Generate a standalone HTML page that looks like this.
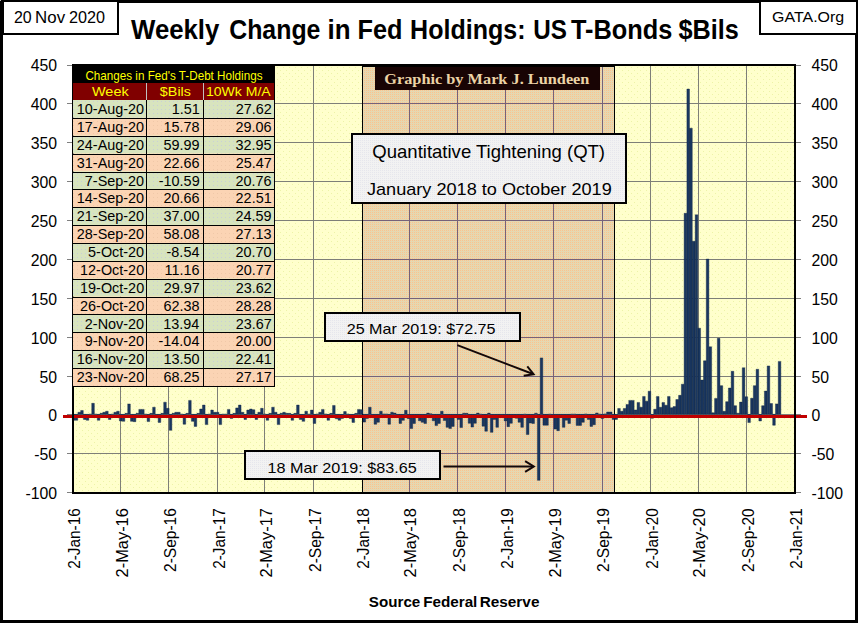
<!DOCTYPE html><html><head><meta charset="utf-8"><style>html,body{margin:0;padding:0;background:#fff;}svg{display:block;}text{font-family:"Liberation Sans",sans-serif;}</style></head><body>
<svg width="858" height="623" viewBox="0 0 858 623">
<defs>
<pattern id="ydots" width="6" height="6" patternUnits="userSpaceOnUse"><rect width="6" height="6" fill="#FFFFCC"/><rect x="1" y="1" width="1" height="1" fill="#EDF3A8"/><rect x="4" y="4" width="1" height="1" fill="#EDF3A8"/></pattern>
<pattern id="tan" width="2" height="2" patternUnits="userSpaceOnUse"><rect width="2" height="2" fill="#ECD7AB"/><rect x="0" y="0" width="1" height="1" fill="#F4C494"/><rect x="1" y="1" width="1" height="1" fill="#DDD8B8"/></pattern>
<pattern id="grn" width="4" height="4" patternUnits="userSpaceOnUse"><rect width="4" height="4" fill="#D8E4BE"/><rect x="1" y="1" width="1" height="1" fill="#C8D0D8"/></pattern>
<pattern id="pch" width="4" height="4" patternUnits="userSpaceOnUse"><rect width="4" height="4" fill="#FBD4B4"/><rect x="1" y="1" width="1" height="1" fill="#F0C8A8"/></pattern>
<pattern id="qt" width="2" height="2" patternUnits="userSpaceOnUse"><rect width="2" height="2" fill="#F2F2F2"/><rect x="0" y="0" width="1" height="1" fill="#E6E6EC"/></pattern>
</defs>
<rect width="858" height="623" fill="#fff"/>
<rect x="74" y="66" width="720" height="426" fill="url(#ydots)"/>
<rect x="362" y="66" width="253" height="427" fill="url(#tan)"/>
<rect x="74" y="103" width="288" height="1" fill="#7E7F78"/>
<rect x="363" y="103" width="251" height="1" fill="#76627A"/>
<rect x="615" y="103" width="179" height="1" fill="#7E7F78"/>
<rect x="74" y="142" width="288" height="1" fill="#7E7F78"/>
<rect x="363" y="142" width="251" height="1" fill="#76627A"/>
<rect x="615" y="142" width="179" height="1" fill="#7E7F78"/>
<rect x="74" y="181" width="288" height="1" fill="#7E7F78"/>
<rect x="363" y="181" width="251" height="1" fill="#76627A"/>
<rect x="615" y="181" width="179" height="1" fill="#7E7F78"/>
<rect x="74" y="220" width="288" height="1" fill="#7E7F78"/>
<rect x="363" y="220" width="251" height="1" fill="#76627A"/>
<rect x="615" y="220" width="179" height="1" fill="#7E7F78"/>
<rect x="74" y="259" width="288" height="1" fill="#7E7F78"/>
<rect x="363" y="259" width="251" height="1" fill="#76627A"/>
<rect x="615" y="259" width="179" height="1" fill="#7E7F78"/>
<rect x="74" y="298" width="288" height="1" fill="#7E7F78"/>
<rect x="363" y="298" width="251" height="1" fill="#76627A"/>
<rect x="615" y="298" width="179" height="1" fill="#7E7F78"/>
<rect x="74" y="337" width="288" height="1" fill="#7E7F78"/>
<rect x="363" y="337" width="251" height="1" fill="#76627A"/>
<rect x="615" y="337" width="179" height="1" fill="#7E7F78"/>
<rect x="74" y="376" width="288" height="1" fill="#7E7F78"/>
<rect x="363" y="376" width="251" height="1" fill="#76627A"/>
<rect x="615" y="376" width="179" height="1" fill="#7E7F78"/>
<rect x="74" y="414" width="288" height="1" fill="#7E7F78"/>
<rect x="363" y="414" width="251" height="1" fill="#76627A"/>
<rect x="615" y="414" width="179" height="1" fill="#7E7F78"/>
<rect x="74" y="453" width="288" height="1" fill="#7E7F78"/>
<rect x="363" y="453" width="251" height="1" fill="#76627A"/>
<rect x="615" y="453" width="179" height="1" fill="#7E7F78"/>
<rect x="120" y="66" width="1" height="426" fill="#7E7F78"/>
<rect x="168" y="66" width="1" height="426" fill="#7E7F78"/>
<rect x="217" y="66" width="1" height="426" fill="#7E7F78"/>
<rect x="264" y="66" width="1" height="426" fill="#7E7F78"/>
<rect x="313" y="66" width="1" height="426" fill="#7E7F78"/>
<rect x="409" y="66" width="1" height="426" fill="#76627A"/>
<rect x="457" y="66" width="1" height="426" fill="#76627A"/>
<rect x="505" y="66" width="1" height="426" fill="#76627A"/>
<rect x="553" y="66" width="1" height="426" fill="#76627A"/>
<rect x="602" y="66" width="1" height="426" fill="#76627A"/>
<rect x="650" y="66" width="1" height="426" fill="#7E7F78"/>
<rect x="698" y="66" width="1" height="426" fill="#7E7F78"/>
<rect x="746" y="66" width="1" height="426" fill="#7E7F78"/>
<rect x="362" y="66" width="1" height="427" fill="#000"/><rect x="614" y="66" width="1" height="427" fill="#000"/><rect x="362" y="66" width="253" height="1" fill="#000"/>
<path d="M72.36 414.36h2.6v5.90h-2.6zM75.13 414.36h2.6v5.90h-2.6zM77.90 412.27h2.6v2.10h-2.6zM80.66 410.48h2.6v3.88h-2.6zM83.43 414.36h2.6v5.12h-2.6zM86.20 414.36h2.6v5.90h-2.6zM88.97 414.13h2.6v0.23h-2.6zM91.74 403.34h2.6v11.02h-2.6zM94.51 414.13h2.6v0.23h-2.6zM97.27 414.36h2.6v5.90h-2.6zM100.04 413.35h2.6v1.01h-2.6zM102.81 412.27h2.6v2.10h-2.6zM105.58 411.26h2.6v3.11h-2.6zM108.35 414.36h2.6v5.12h-2.6zM111.11 414.13h2.6v0.23h-2.6zM113.88 412.27h2.6v2.10h-2.6zM116.65 411.26h2.6v3.11h-2.6zM119.42 414.36h2.6v6.60h-2.6zM122.19 414.36h2.6v6.99h-2.6zM124.96 413.35h2.6v1.01h-2.6zM127.72 403.96h2.6v10.40h-2.6zM130.49 414.36h2.6v6.99h-2.6zM133.26 414.36h2.6v7.30h-2.6zM136.03 413.35h2.6v1.01h-2.6zM138.80 409.39h2.6v4.97h-2.6zM141.56 409.39h2.6v4.97h-2.6zM144.33 414.13h2.6v0.23h-2.6zM147.10 414.36h2.6v7.22h-2.6zM149.87 413.35h2.6v1.01h-2.6zM152.64 407.22h2.6v7.14h-2.6zM155.41 414.36h2.6v3.49h-2.6zM158.17 414.36h2.6v8.07h-2.6zM160.94 413.35h2.6v1.01h-2.6zM163.71 402.17h2.6v12.19h-2.6zM166.48 408.31h2.6v6.06h-2.6zM169.25 414.36h2.6v15.99h-2.6zM172.02 413.35h2.6v1.01h-2.6zM174.78 412.27h2.6v2.10h-2.6zM177.55 412.27h2.6v2.10h-2.6zM180.32 414.13h2.6v0.23h-2.6zM183.09 414.36h2.6v9.86h-2.6zM185.86 413.35h2.6v1.01h-2.6zM188.62 400.39h2.6v13.97h-2.6zM191.39 414.36h2.6v6.99h-2.6zM194.16 414.36h2.6v12.03h-2.6zM196.93 413.35h2.6v1.01h-2.6zM199.70 409.01h2.6v5.36h-2.6zM202.47 405.05h2.6v9.32h-2.6zM205.23 414.36h2.6v10.25h-2.6zM208.00 414.13h2.6v0.23h-2.6zM210.77 410.09h2.6v4.27h-2.6zM213.54 412.27h2.6v2.10h-2.6zM216.31 412.27h2.6v2.10h-2.6zM219.07 414.36h2.6v10.25h-2.6zM221.84 414.13h2.6v0.23h-2.6zM224.61 414.13h2.6v0.23h-2.6zM227.38 409.39h2.6v4.97h-2.6zM230.15 414.36h2.6v4.04h-2.6zM232.92 413.35h2.6v1.01h-2.6zM235.68 407.92h2.6v6.44h-2.6zM238.45 405.05h2.6v9.32h-2.6zM241.22 412.27h2.6v2.10h-2.6zM243.99 414.36h2.6v5.12h-2.6zM246.76 410.09h2.6v4.27h-2.6zM249.52 409.01h2.6v5.36h-2.6zM252.29 409.78h2.6v4.58h-2.6zM255.06 414.36h2.6v5.12h-2.6zM257.83 412.27h2.6v2.10h-2.6zM260.60 408.31h2.6v6.06h-2.6zM263.37 414.13h2.6v0.23h-2.6zM266.13 414.36h2.6v5.90h-2.6zM268.90 413.35h2.6v1.01h-2.6zM271.67 407.22h2.6v7.14h-2.6zM274.44 412.27h2.6v2.10h-2.6zM277.21 414.36h2.6v10.25h-2.6zM279.97 413.35h2.6v1.01h-2.6zM282.74 412.27h2.6v2.10h-2.6zM285.51 413.35h2.6v1.01h-2.6zM288.28 413.35h2.6v1.01h-2.6zM291.05 414.36h2.6v5.90h-2.6zM293.82 413.35h2.6v1.01h-2.6zM296.58 405.05h2.6v9.32h-2.6zM299.35 414.36h2.6v5.12h-2.6zM302.12 414.36h2.6v6.99h-2.6zM304.89 411.18h2.6v3.18h-2.6zM307.66 414.13h2.6v0.23h-2.6zM310.43 410.09h2.6v4.27h-2.6zM313.19 414.36h2.6v9.08h-2.6zM315.96 413.98h2.6v0.39h-2.6zM318.73 412.27h2.6v2.10h-2.6zM321.50 409.39h2.6v4.97h-2.6zM324.27 413.98h2.6v0.39h-2.6zM327.03 414.36h2.6v5.90h-2.6zM329.80 413.35h2.6v1.01h-2.6zM332.57 405.44h2.6v8.93h-2.6zM335.34 414.36h2.6v4.43h-2.6zM338.11 414.36h2.6v5.90h-2.6zM340.88 414.36h2.6v4.04h-2.6zM343.64 411.57h2.6v2.79h-2.6zM346.41 413.98h2.6v0.39h-2.6zM349.18 414.36h2.6v4.04h-2.6zM351.95 414.36h2.6v8.07h-2.6zM354.72 413.35h2.6v1.01h-2.6zM357.48 409.39h2.6v4.97h-2.6zM360.25 409.71h2.6v4.66h-2.6zM363.02 414.36h2.6v7.76h-2.6zM365.79 414.36h2.6v4.04h-2.6zM368.56 407.22h2.6v7.14h-2.6zM371.33 414.36h2.6v3.11h-2.6zM374.09 414.36h2.6v9.86h-2.6zM376.86 414.36h2.6v7.92h-2.6zM379.63 411.26h2.6v3.11h-2.6zM382.40 413.98h2.6v0.39h-2.6zM385.17 413.98h2.6v0.39h-2.6zM387.93 414.36h2.6v9.86h-2.6zM390.70 412.19h2.6v2.17h-2.6zM393.47 413.12h2.6v1.24h-2.6zM396.24 414.36h2.6v3.11h-2.6zM399.01 414.36h2.6v9.08h-2.6zM401.78 414.36h2.6v5.98h-2.6zM404.54 410.25h2.6v4.11h-2.6zM407.31 414.36h2.6v4.27h-2.6zM410.08 414.36h2.6v14.21h-2.6zM412.85 414.36h2.6v9.16h-2.6zM415.62 414.36h2.6v0.78h-2.6zM418.39 414.36h2.6v6.44h-2.6zM421.15 414.36h2.6v7.92h-2.6zM423.92 414.36h2.6v9.16h-2.6zM426.69 413.12h2.6v1.24h-2.6zM429.46 413.82h2.6v0.54h-2.6zM432.23 414.36h2.6v6.44h-2.6zM434.99 414.36h2.6v11.26h-2.6zM437.76 414.36h2.6v9.08h-2.6zM440.53 411.26h2.6v3.11h-2.6zM443.30 414.36h2.6v6.21h-2.6zM446.07 414.36h2.6v12.97h-2.6zM448.84 414.36h2.6v14.21h-2.6zM451.60 414.36h2.6v12.03h-2.6zM454.37 414.36h2.6v0.78h-2.6zM457.14 414.36h2.6v5.05h-2.6zM459.91 414.36h2.6v13.20h-2.6zM462.68 413.20h2.6v1.16h-2.6zM465.44 413.35h2.6v1.01h-2.6zM468.21 414.36h2.6v8.93h-2.6zM470.98 414.36h2.6v12.73h-2.6zM473.75 414.36h2.6v8.93h-2.6zM476.52 413.12h2.6v1.24h-2.6zM479.29 414.13h2.6v0.23h-2.6zM482.05 414.36h2.6v11.80h-2.6zM484.82 414.36h2.6v16.85h-2.6zM487.59 413.12h2.6v1.24h-2.6zM490.36 414.36h2.6v18.01h-2.6zM493.13 414.36h2.6v5.05h-2.6zM495.89 414.36h2.6v12.97h-2.6zM498.66 414.36h2.6v0.39h-2.6zM501.43 414.36h2.6v0.39h-2.6zM504.20 414.36h2.6v6.52h-2.6zM506.97 414.36h2.6v12.27h-2.6zM509.74 414.36h2.6v8.93h-2.6zM512.50 414.36h2.6v1.55h-2.6zM515.27 414.36h2.6v3.88h-2.6zM518.04 414.36h2.6v7.92h-2.6zM520.81 414.36h2.6v12.97h-2.6zM523.58 414.13h2.6v0.23h-2.6zM526.34 414.36h2.6v20.19h-2.6zM529.11 414.36h2.6v8.70h-2.6zM531.88 414.36h2.6v9.16h-2.6zM534.65 413.20h2.6v1.16h-2.6zM537.42 414.36h2.6v65.99h-2.6zM540.19 357.88h2.6v56.48h-2.6zM542.95 414.36h2.6v10.87h-2.6zM545.72 414.36h2.6v10.87h-2.6zM548.49 414.13h2.6v0.23h-2.6zM551.26 414.36h2.6v3.11h-2.6zM554.03 414.36h2.6v14.75h-2.6zM556.80 414.36h2.6v16.30h-2.6zM559.56 414.36h2.6v0.39h-2.6zM562.33 414.36h2.6v12.97h-2.6zM565.10 414.36h2.6v5.82h-2.6zM567.87 414.36h2.6v9.08h-2.6zM570.64 414.13h2.6v0.23h-2.6zM573.40 414.13h2.6v0.23h-2.6zM576.17 414.36h2.6v11.02h-2.6zM578.94 414.36h2.6v11.02h-2.6zM581.71 414.36h2.6v7.92h-2.6zM584.48 413.98h2.6v0.39h-2.6zM587.25 414.36h2.6v5.05h-2.6zM590.01 414.36h2.6v12.03h-2.6zM592.78 414.36h2.6v10.33h-2.6zM595.55 412.97h2.6v1.40h-2.6zM598.32 414.13h2.6v0.23h-2.6zM601.09 414.36h2.6v4.11h-2.6zM603.85 413.90h2.6v0.47h-2.6zM606.62 412.03h2.6v2.33h-2.6zM609.39 412.03h2.6v2.33h-2.6zM612.16 414.36h2.6v5.05h-2.6zM614.93 414.36h2.6v5.05h-2.6zM617.70 408.46h2.6v5.90h-2.6zM620.46 411.26h2.6v3.11h-2.6zM623.23 408.46h2.6v5.90h-2.6zM626.00 404.43h2.6v9.94h-2.6zM628.77 400.39h2.6v13.97h-2.6zM631.54 400.39h2.6v13.97h-2.6zM634.30 409.94h2.6v4.43h-2.6zM637.07 402.41h2.6v11.96h-2.6zM639.84 407.22h2.6v7.14h-2.6zM642.61 396.43h2.6v17.93h-2.6zM645.38 401.17h2.6v13.20h-2.6zM648.15 391.23h2.6v23.14h-2.6zM650.91 414.36h2.6v3.88h-2.6zM653.68 409.24h2.6v5.12h-2.6zM656.45 396.43h2.6v17.93h-2.6zM659.22 407.22h2.6v7.14h-2.6zM661.99 402.41h2.6v11.96h-2.6zM664.75 405.20h2.6v9.16h-2.6zM667.52 396.43h2.6v17.93h-2.6zM670.29 407.69h2.6v6.68h-2.6zM673.06 406.60h2.6v7.76h-2.6zM675.83 399.54h2.6v14.83h-2.6zM678.60 395.34h2.6v19.02h-2.6zM681.36 384.16h2.6v30.20h-2.6zM684.13 213.29h2.6v201.08h-2.6zM686.90 89.07h2.6v325.30h-2.6zM689.67 128.20h2.6v286.17h-2.6zM692.44 241.23h2.6v173.13h-2.6zM695.21 214.84h2.6v199.53h-2.6zM697.97 328.19h2.6v86.18h-2.6zM700.74 380.05h2.6v34.32h-2.6zM703.51 360.79h2.6v53.57h-2.6zM706.28 259.09h2.6v155.27h-2.6zM709.05 346.82h2.6v67.54h-2.6zM711.81 412.81h2.6v1.55h-2.6zM714.58 398.45h2.6v15.92h-2.6zM717.35 338.36h2.6v76.01h-2.6zM720.12 385.64h2.6v28.73h-2.6zM722.89 411.26h2.6v3.11h-2.6zM725.66 401.63h2.6v12.73h-2.6zM728.42 388.04h2.6v26.32h-2.6zM731.19 371.28h2.6v43.09h-2.6zM733.96 405.67h2.6v8.70h-2.6zM736.73 413.19h2.6v1.17h-2.6zM739.50 402.11h2.6v12.25h-2.6zM742.26 367.79h2.6v46.57h-2.6zM745.03 396.77h2.6v17.59h-2.6zM747.80 414.36h2.6v8.22h-2.6zM750.57 398.32h2.6v16.04h-2.6zM753.34 385.64h2.6v28.73h-2.6zM756.11 369.27h2.6v45.09h-2.6zM758.87 414.36h2.6v6.63h-2.6zM761.64 405.70h2.6v8.66h-2.6zM764.41 391.10h2.6v23.27h-2.6zM767.18 365.93h2.6v48.43h-2.6zM769.95 403.54h2.6v10.82h-2.6zM772.71 414.36h2.6v10.90h-2.6zM775.48 403.88h2.6v10.48h-2.6zM778.25 361.38h2.6v52.99h-2.6z" fill="#1A3760" stroke="#0F2342" stroke-width="0.4"/>
<rect x="63" y="415" width="744" height="3" fill="#C00000"/>
<rect x="72" y="64" width="724" height="2" fill="#000"/><rect x="72" y="492" width="724" height="2" fill="#000"/><rect x="72" y="64" width="2" height="430" fill="#000"/><rect x="794" y="64" width="2" height="430" fill="#000"/>
<rect x="67" y="65" width="5" height="1" fill="#808080"/><rect x="796" y="65" width="5" height="1" fill="#808080"/>
<text x="57" y="70.9" font-size="15.8" text-anchor="end" fill="#000">450</text>
<text x="811.5" y="70.9" font-size="15.8" fill="#000">450</text>
<rect x="67" y="103" width="5" height="1" fill="#808080"/><rect x="796" y="103" width="5" height="1" fill="#808080"/>
<text x="57" y="109.7" font-size="15.8" text-anchor="end" fill="#000">400</text>
<text x="811.5" y="109.7" font-size="15.8" fill="#000">400</text>
<rect x="67" y="142" width="5" height="1" fill="#808080"/><rect x="796" y="142" width="5" height="1" fill="#808080"/>
<text x="57" y="148.7" font-size="15.8" text-anchor="end" fill="#000">350</text>
<text x="811.5" y="148.7" font-size="15.8" fill="#000">350</text>
<rect x="67" y="181" width="5" height="1" fill="#808080"/><rect x="796" y="181" width="5" height="1" fill="#808080"/>
<text x="57" y="187.7" font-size="15.8" text-anchor="end" fill="#000">300</text>
<text x="811.5" y="187.7" font-size="15.8" fill="#000">300</text>
<rect x="67" y="220" width="5" height="1" fill="#808080"/><rect x="796" y="220" width="5" height="1" fill="#808080"/>
<text x="57" y="226.7" font-size="15.8" text-anchor="end" fill="#000">250</text>
<text x="811.5" y="226.7" font-size="15.8" fill="#000">250</text>
<rect x="67" y="259" width="5" height="1" fill="#808080"/><rect x="796" y="259" width="5" height="1" fill="#808080"/>
<text x="57" y="265.7" font-size="15.8" text-anchor="end" fill="#000">200</text>
<text x="811.5" y="265.7" font-size="15.8" fill="#000">200</text>
<rect x="67" y="298" width="5" height="1" fill="#808080"/><rect x="796" y="298" width="5" height="1" fill="#808080"/>
<text x="57" y="304.7" font-size="15.8" text-anchor="end" fill="#000">150</text>
<text x="811.5" y="304.7" font-size="15.8" fill="#000">150</text>
<rect x="67" y="337" width="5" height="1" fill="#808080"/><rect x="796" y="337" width="5" height="1" fill="#808080"/>
<text x="57" y="343.7" font-size="15.8" text-anchor="end" fill="#000">100</text>
<text x="811.5" y="343.7" font-size="15.8" fill="#000">100</text>
<rect x="67" y="376" width="5" height="1" fill="#808080"/><rect x="796" y="376" width="5" height="1" fill="#808080"/>
<text x="57" y="382.7" font-size="15.8" text-anchor="end" fill="#000">50</text>
<text x="811.5" y="382.7" font-size="15.8" fill="#000">50</text>
<rect x="67" y="414" width="5" height="1" fill="#808080"/><rect x="796" y="414" width="5" height="1" fill="#808080"/>
<text x="57" y="420.7" font-size="15.8" text-anchor="end" fill="#000">0</text>
<text x="811.5" y="420.7" font-size="15.8" fill="#000">0</text>
<rect x="67" y="453" width="5" height="1" fill="#808080"/><rect x="796" y="453" width="5" height="1" fill="#808080"/>
<text x="57" y="459.7" font-size="15.8" text-anchor="end" fill="#000">-50</text>
<text x="811.5" y="459.7" font-size="15.8" fill="#000">-50</text>
<rect x="67" y="492" width="5" height="1" fill="#808080"/><rect x="796" y="492" width="5" height="1" fill="#808080"/>
<text x="57" y="498.7" font-size="15.8" text-anchor="end" fill="#000">-100</text>
<text x="811.5" y="498.7" font-size="15.8" fill="#000">-100</text>
<text x="-568.87" y="0.00" font-size="15.60" style="font-family:'Liberation Sans',sans-serif" fill="#000" textLength="60.65" lengthAdjust="spacingAndGlyphs" transform="translate(79.8,0) rotate(-90)">2-Jan-16</text>
<text x="-577.42" y="0.00" font-size="15.60" style="font-family:'Liberation Sans',sans-serif" fill="#000" textLength="69.24" lengthAdjust="spacingAndGlyphs" transform="translate(127.7,0) rotate(-90)">2-May-16</text>
<text x="-571.97" y="0.00" font-size="15.60" style="font-family:'Liberation Sans',sans-serif" fill="#000" textLength="63.75" lengthAdjust="spacingAndGlyphs" transform="translate(176.3,0) rotate(-90)">2-Sep-16</text>
<text x="-568.87" y="0.00" font-size="15.60" style="font-family:'Liberation Sans',sans-serif" fill="#000" textLength="60.77" lengthAdjust="spacingAndGlyphs" transform="translate(224.5,0) rotate(-90)">2-Jan-17</text>
<text x="-577.42" y="0.00" font-size="15.60" style="font-family:'Liberation Sans',sans-serif" fill="#000" textLength="69.36" lengthAdjust="spacingAndGlyphs" transform="translate(272.0,0) rotate(-90)">2-May-17</text>
<text x="-571.98" y="0.00" font-size="15.60" style="font-family:'Liberation Sans',sans-serif" fill="#000" textLength="63.87" lengthAdjust="spacingAndGlyphs" transform="translate(320.6,0) rotate(-90)">2-Sep-17</text>
<text x="-568.87" y="0.00" font-size="15.60" style="font-family:'Liberation Sans',sans-serif" fill="#000" textLength="60.65" lengthAdjust="spacingAndGlyphs" transform="translate(368.9,0) rotate(-90)">2-Jan-18</text>
<text x="-577.42" y="0.00" font-size="15.60" style="font-family:'Liberation Sans',sans-serif" fill="#000" textLength="69.24" lengthAdjust="spacingAndGlyphs" transform="translate(416.3,0) rotate(-90)">2-May-18</text>
<text x="-571.97" y="0.00" font-size="15.60" style="font-family:'Liberation Sans',sans-serif" fill="#000" textLength="63.75" lengthAdjust="spacingAndGlyphs" transform="translate(465.0,0) rotate(-90)">2-Sep-18</text>
<text x="-568.87" y="0.00" font-size="15.60" style="font-family:'Liberation Sans',sans-serif" fill="#000" textLength="60.69" lengthAdjust="spacingAndGlyphs" transform="translate(513.2,0) rotate(-90)">2-Jan-19</text>
<text x="-577.42" y="0.00" font-size="15.60" style="font-family:'Liberation Sans',sans-serif" fill="#000" textLength="69.28" lengthAdjust="spacingAndGlyphs" transform="translate(560.7,0) rotate(-90)">2-May-19</text>
<text x="-571.98" y="0.00" font-size="15.60" style="font-family:'Liberation Sans',sans-serif" fill="#000" textLength="63.79" lengthAdjust="spacingAndGlyphs" transform="translate(609.3,0) rotate(-90)">2-Sep-19</text>
<text x="-568.87" y="0.00" font-size="15.60" style="font-family:'Liberation Sans',sans-serif" fill="#000" textLength="60.57" lengthAdjust="spacingAndGlyphs" transform="translate(657.6,0) rotate(-90)">2-Jan-20</text>
<text x="-577.42" y="0.00" font-size="15.60" style="font-family:'Liberation Sans',sans-serif" fill="#000" textLength="69.15" lengthAdjust="spacingAndGlyphs" transform="translate(705.4,0) rotate(-90)">2-May-20</text>
<text x="-571.97" y="0.00" font-size="15.60" style="font-family:'Liberation Sans',sans-serif" fill="#000" textLength="63.68" lengthAdjust="spacingAndGlyphs" transform="translate(754.1,0) rotate(-90)">2-Sep-20</text>
<text x="-568.87" y="0.00" font-size="15.60" style="font-family:'Liberation Sans',sans-serif" fill="#000" textLength="60.73" lengthAdjust="spacingAndGlyphs" transform="translate(802.3,0) rotate(-90)">2-Jan-21</text>
<rect x="72" y="64" width="203" height="19" fill="#000"/>
<text x="85.42" y="80.40" font-size="12.94" style="font-family:'Liberation Sans',sans-serif" fill="#FFFF00" textLength="177.08" lengthAdjust="spacingAndGlyphs">Changes in Fed's T-Debt Holdings</text>
<rect x="72" y="83" width="203" height="17" fill="#800000"/>
<rect x="146" y="83" width="1" height="17" fill="#C0C0C0"/><rect x="203" y="83" width="1" height="17" fill="#C0C0C0"/>
<text x="91.93" y="95.50" font-size="13.52" style="font-family:'Liberation Sans',sans-serif" fill="#FFFF00" textLength="36.78" lengthAdjust="spacingAndGlyphs">Week</text>
<text x="159.86" y="95.50" font-size="13.52" style="font-family:'Liberation Sans',sans-serif" fill="#FFFF00" textLength="31.05" lengthAdjust="spacingAndGlyphs">$Bils</text>
<text x="205.95" y="95.50" font-size="13.52" style="font-family:'Liberation Sans',sans-serif" fill="#FFFF00" textLength="64.78" lengthAdjust="spacingAndGlyphs">10Wk M/A</text>
<rect x="72" y="100.00" width="203" height="17.88" fill="url(#grn)"/>
<text x="76.83" y="114.00" font-size="14.20" style="font-family:'Liberation Sans',sans-serif" fill="#000" textLength="67.31" lengthAdjust="spacingAndGlyphs">10-Aug-20</text>
<text x="171.65" y="114.00" font-size="14.20" style="font-family:'Liberation Sans',sans-serif" fill="#000" textLength="28.05" lengthAdjust="spacingAndGlyphs">1.51</text>
<text x="235.65" y="114.00" font-size="14.20" style="font-family:'Liberation Sans',sans-serif" fill="#000" textLength="36.07" lengthAdjust="spacingAndGlyphs">27.62</text>
<rect x="72" y="117.88" width="203" height="17.88" fill="url(#pch)"/>
<text x="76.83" y="131.88" font-size="14.20" style="font-family:'Liberation Sans',sans-serif" fill="#000" textLength="67.31" lengthAdjust="spacingAndGlyphs">17-Aug-20</text>
<text x="163.54" y="131.88" font-size="14.20" style="font-family:'Liberation Sans',sans-serif" fill="#000" textLength="36.07" lengthAdjust="spacingAndGlyphs">15.78</text>
<text x="235.54" y="131.88" font-size="14.20" style="font-family:'Liberation Sans',sans-serif" fill="#000" textLength="36.07" lengthAdjust="spacingAndGlyphs">29.06</text>
<rect x="72" y="135.75" width="203" height="17.88" fill="url(#grn)"/>
<text x="76.83" y="149.75" font-size="14.20" style="font-family:'Liberation Sans',sans-serif" fill="#000" textLength="67.31" lengthAdjust="spacingAndGlyphs">24-Aug-20</text>
<text x="163.58" y="149.75" font-size="14.20" style="font-family:'Liberation Sans',sans-serif" fill="#000" textLength="36.07" lengthAdjust="spacingAndGlyphs">59.99</text>
<text x="235.51" y="149.75" font-size="14.20" style="font-family:'Liberation Sans',sans-serif" fill="#000" textLength="36.07" lengthAdjust="spacingAndGlyphs">32.95</text>
<rect x="72" y="153.62" width="203" height="17.88" fill="url(#pch)"/>
<text x="76.83" y="167.62" font-size="14.20" style="font-family:'Liberation Sans',sans-serif" fill="#000" textLength="67.31" lengthAdjust="spacingAndGlyphs">31-Aug-20</text>
<text x="163.54" y="167.62" font-size="14.20" style="font-family:'Liberation Sans',sans-serif" fill="#000" textLength="36.07" lengthAdjust="spacingAndGlyphs">22.66</text>
<text x="235.65" y="167.62" font-size="14.20" style="font-family:'Liberation Sans',sans-serif" fill="#000" textLength="36.07" lengthAdjust="spacingAndGlyphs">25.47</text>
<rect x="72" y="171.50" width="203" height="17.88" fill="url(#grn)"/>
<text x="84.87" y="185.50" font-size="14.20" style="font-family:'Liberation Sans',sans-serif" fill="#000" textLength="59.29" lengthAdjust="spacingAndGlyphs">7-Sep-20</text>
<text x="158.79" y="185.50" font-size="14.20" style="font-family:'Liberation Sans',sans-serif" fill="#000" textLength="40.87" lengthAdjust="spacingAndGlyphs">-10.59</text>
<text x="235.54" y="185.50" font-size="14.20" style="font-family:'Liberation Sans',sans-serif" fill="#000" textLength="36.07" lengthAdjust="spacingAndGlyphs">20.76</text>
<rect x="72" y="189.38" width="203" height="17.88" fill="url(#pch)"/>
<text x="76.83" y="203.38" font-size="14.20" style="font-family:'Liberation Sans',sans-serif" fill="#000" textLength="67.31" lengthAdjust="spacingAndGlyphs">14-Sep-20</text>
<text x="163.54" y="203.38" font-size="14.20" style="font-family:'Liberation Sans',sans-serif" fill="#000" textLength="36.07" lengthAdjust="spacingAndGlyphs">20.66</text>
<text x="235.62" y="203.38" font-size="14.20" style="font-family:'Liberation Sans',sans-serif" fill="#000" textLength="36.07" lengthAdjust="spacingAndGlyphs">22.51</text>
<rect x="72" y="207.25" width="203" height="17.88" fill="url(#grn)"/>
<text x="76.83" y="221.25" font-size="14.20" style="font-family:'Liberation Sans',sans-serif" fill="#000" textLength="67.31" lengthAdjust="spacingAndGlyphs">21-Sep-20</text>
<text x="163.47" y="221.25" font-size="14.20" style="font-family:'Liberation Sans',sans-serif" fill="#000" textLength="36.07" lengthAdjust="spacingAndGlyphs">37.00</text>
<text x="235.58" y="221.25" font-size="14.20" style="font-family:'Liberation Sans',sans-serif" fill="#000" textLength="36.07" lengthAdjust="spacingAndGlyphs">24.59</text>
<rect x="72" y="225.12" width="203" height="17.88" fill="url(#pch)"/>
<text x="76.83" y="239.12" font-size="14.20" style="font-family:'Liberation Sans',sans-serif" fill="#000" textLength="67.31" lengthAdjust="spacingAndGlyphs">28-Sep-20</text>
<text x="163.54" y="239.12" font-size="14.20" style="font-family:'Liberation Sans',sans-serif" fill="#000" textLength="36.07" lengthAdjust="spacingAndGlyphs">58.08</text>
<text x="235.54" y="239.12" font-size="14.20" style="font-family:'Liberation Sans',sans-serif" fill="#000" textLength="36.07" lengthAdjust="spacingAndGlyphs">27.13</text>
<rect x="72" y="243.00" width="203" height="17.88" fill="url(#grn)"/>
<text x="88.07" y="257.00" font-size="14.20" style="font-family:'Liberation Sans',sans-serif" fill="#000" textLength="56.07" lengthAdjust="spacingAndGlyphs">5-Oct-20</text>
<text x="166.57" y="257.00" font-size="14.20" style="font-family:'Liberation Sans',sans-serif" fill="#000" textLength="32.85" lengthAdjust="spacingAndGlyphs">-8.54</text>
<text x="235.47" y="257.00" font-size="14.20" style="font-family:'Liberation Sans',sans-serif" fill="#000" textLength="36.07" lengthAdjust="spacingAndGlyphs">20.70</text>
<rect x="72" y="260.88" width="203" height="17.88" fill="url(#pch)"/>
<text x="80.07" y="274.88" font-size="14.20" style="font-family:'Liberation Sans',sans-serif" fill="#000" textLength="64.09" lengthAdjust="spacingAndGlyphs">12-Oct-20</text>
<text x="164.62" y="274.88" font-size="14.20" style="font-family:'Liberation Sans',sans-serif" fill="#000" textLength="35.00" lengthAdjust="spacingAndGlyphs">11.16</text>
<text x="235.65" y="274.88" font-size="14.20" style="font-family:'Liberation Sans',sans-serif" fill="#000" textLength="36.07" lengthAdjust="spacingAndGlyphs">20.77</text>
<rect x="72" y="278.75" width="203" height="17.88" fill="url(#grn)"/>
<text x="80.07" y="292.75" font-size="14.20" style="font-family:'Liberation Sans',sans-serif" fill="#000" textLength="64.09" lengthAdjust="spacingAndGlyphs">19-Oct-20</text>
<text x="163.65" y="292.75" font-size="14.20" style="font-family:'Liberation Sans',sans-serif" fill="#000" textLength="36.07" lengthAdjust="spacingAndGlyphs">29.97</text>
<text x="235.65" y="292.75" font-size="14.20" style="font-family:'Liberation Sans',sans-serif" fill="#000" textLength="36.07" lengthAdjust="spacingAndGlyphs">23.62</text>
<rect x="72" y="296.62" width="203" height="17.88" fill="url(#pch)"/>
<text x="80.07" y="310.62" font-size="14.20" style="font-family:'Liberation Sans',sans-serif" fill="#000" textLength="64.09" lengthAdjust="spacingAndGlyphs">26-Oct-20</text>
<text x="163.54" y="310.62" font-size="14.20" style="font-family:'Liberation Sans',sans-serif" fill="#000" textLength="36.07" lengthAdjust="spacingAndGlyphs">62.38</text>
<text x="235.54" y="310.62" font-size="14.20" style="font-family:'Liberation Sans',sans-serif" fill="#000" textLength="36.07" lengthAdjust="spacingAndGlyphs">28.28</text>
<rect x="72" y="314.50" width="203" height="17.88" fill="url(#grn)"/>
<text x="84.87" y="328.50" font-size="14.20" style="font-family:'Liberation Sans',sans-serif" fill="#000" textLength="59.28" lengthAdjust="spacingAndGlyphs">2-Nov-20</text>
<text x="163.33" y="328.50" font-size="14.20" style="font-family:'Liberation Sans',sans-serif" fill="#000" textLength="36.07" lengthAdjust="spacingAndGlyphs">13.94</text>
<text x="235.65" y="328.50" font-size="14.20" style="font-family:'Liberation Sans',sans-serif" fill="#000" textLength="36.07" lengthAdjust="spacingAndGlyphs">23.67</text>
<rect x="72" y="332.38" width="203" height="17.88" fill="url(#pch)"/>
<text x="84.87" y="346.38" font-size="14.20" style="font-family:'Liberation Sans',sans-serif" fill="#000" textLength="59.28" lengthAdjust="spacingAndGlyphs">9-Nov-20</text>
<text x="158.54" y="346.38" font-size="14.20" style="font-family:'Liberation Sans',sans-serif" fill="#000" textLength="40.87" lengthAdjust="spacingAndGlyphs">-14.04</text>
<text x="235.47" y="346.38" font-size="14.20" style="font-family:'Liberation Sans',sans-serif" fill="#000" textLength="36.07" lengthAdjust="spacingAndGlyphs">20.00</text>
<rect x="72" y="350.25" width="203" height="17.88" fill="url(#grn)"/>
<text x="76.87" y="364.25" font-size="14.20" style="font-family:'Liberation Sans',sans-serif" fill="#000" textLength="67.30" lengthAdjust="spacingAndGlyphs">16-Nov-20</text>
<text x="163.47" y="364.25" font-size="14.20" style="font-family:'Liberation Sans',sans-serif" fill="#000" textLength="36.07" lengthAdjust="spacingAndGlyphs">13.50</text>
<text x="235.62" y="364.25" font-size="14.20" style="font-family:'Liberation Sans',sans-serif" fill="#000" textLength="36.07" lengthAdjust="spacingAndGlyphs">22.41</text>
<rect x="72" y="368.12" width="203" height="17.88" fill="url(#pch)"/>
<text x="76.87" y="382.12" font-size="14.20" style="font-family:'Liberation Sans',sans-serif" fill="#000" textLength="67.30" lengthAdjust="spacingAndGlyphs">23-Nov-20</text>
<text x="163.51" y="382.12" font-size="14.20" style="font-family:'Liberation Sans',sans-serif" fill="#000" textLength="36.07" lengthAdjust="spacingAndGlyphs">68.25</text>
<text x="235.65" y="382.12" font-size="14.20" style="font-family:'Liberation Sans',sans-serif" fill="#000" textLength="36.07" lengthAdjust="spacingAndGlyphs">27.17</text>
<rect x="72" y="118" width="203" height="1" fill="#000"/>
<rect x="72" y="136" width="203" height="1" fill="#000"/>
<rect x="72" y="154" width="203" height="1" fill="#000"/>
<rect x="72" y="172" width="203" height="1" fill="#000"/>
<rect x="72" y="189" width="203" height="1" fill="#000"/>
<rect x="72" y="207" width="203" height="1" fill="#000"/>
<rect x="72" y="225" width="203" height="1" fill="#000"/>
<rect x="72" y="243" width="203" height="1" fill="#000"/>
<rect x="72" y="261" width="203" height="1" fill="#000"/>
<rect x="72" y="279" width="203" height="1" fill="#000"/>
<rect x="72" y="297" width="203" height="1" fill="#000"/>
<rect x="72" y="314" width="203" height="1" fill="#000"/>
<rect x="72" y="332" width="203" height="1" fill="#000"/>
<rect x="72" y="350" width="203" height="1" fill="#000"/>
<rect x="72" y="368" width="203" height="1" fill="#000"/>
<rect x="146" y="100" width="1" height="286" fill="#000"/><rect x="203" y="100" width="1" height="286" fill="#000"/>
<rect x="72" y="64" width="1" height="323" fill="#000"/><rect x="274" y="64" width="1" height="323" fill="#000"/><rect x="72" y="386" width="203" height="1" fill="#000"/>
<rect x="375" y="67" width="225" height="23" fill="#180404"/>
<text x="384.28" y="83.90" font-size="14.50" font-weight="bold" style="font-family:'Liberation Serif',serif" fill="#EBD3A6" textLength="205.16" lengthAdjust="spacingAndGlyphs">Graphic by Mark J. Lundeen</text>
<rect x="352" y="134" width="274" height="69" fill="url(#qt)" stroke="#000" stroke-width="2"/>
<text x="372.32" y="158.00" font-size="17.59" style="font-family:'Liberation Sans',sans-serif" fill="#000" textLength="232.73" lengthAdjust="spacingAndGlyphs">Quantitative Tightening (QT)</text>
<text x="366.93" y="194.60" font-size="17.15" style="font-family:'Liberation Sans',sans-serif" fill="#000" textLength="244.83" lengthAdjust="spacingAndGlyphs">January 2018 to October 2019</text>
<rect x="325" y="313" width="195" height="28" fill="url(#qt)" stroke="#000" stroke-width="2"/>
<text x="346.69" y="333.70" font-size="15.41" style="font-family:'Liberation Sans',sans-serif" fill="#000" textLength="148.88" lengthAdjust="spacingAndGlyphs">25 Mar 2019: $72.75</text>
<line x1="457.3" y1="345.1" x2="533" y2="374" stroke="#140808" stroke-width="2"/>
<path d="M527.3 366.4 L533.6 374.2 L523.7 375.8" fill="none" stroke="#140808" stroke-width="2" stroke-linejoin="miter"/>
<rect x="245" y="451" width="195" height="28" fill="url(#qt)" stroke="#000" stroke-width="2"/>
<text x="267.49" y="472.70" font-size="15.41" style="font-family:'Liberation Sans',sans-serif" fill="#000" textLength="149.29" lengthAdjust="spacingAndGlyphs">18 Mar 2019: $83.65</text>
<line x1="443.5" y1="466.5" x2="533" y2="466.5" stroke="#140808" stroke-width="2"/>
<path d="M525.1 461.2 L533.8 466.5 L525.1 471.8" fill="none" stroke="#140808" stroke-width="2"/>
<text x="131.04" y="39.40" font-size="27.76" font-weight="bold" style="font-family:'Liberation Sans',sans-serif" fill="#000" textLength="88.32" lengthAdjust="spacingAndGlyphs">Weekly</text>
<text x="229.20" y="39.40" font-size="27.76" font-weight="bold" style="font-family:'Liberation Sans',sans-serif" fill="#000" textLength="91.26" lengthAdjust="spacingAndGlyphs">Change</text>
<text x="327.49" y="39.40" font-size="27.76" font-weight="bold" style="font-family:'Liberation Sans',sans-serif" fill="#000" textLength="23.00" lengthAdjust="spacingAndGlyphs">in</text>
<text x="357.49" y="39.40" font-size="27.76" font-weight="bold" style="font-family:'Liberation Sans',sans-serif" fill="#000" textLength="44.96" lengthAdjust="spacingAndGlyphs">Fed</text>
<text x="410.11" y="39.40" font-size="27.76" font-weight="bold" style="font-family:'Liberation Sans',sans-serif" fill="#000" textLength="115.38" lengthAdjust="spacingAndGlyphs">Holdings:</text>
<text x="533.24" y="39.40" font-size="27.76" font-weight="bold" style="font-family:'Liberation Sans',sans-serif" fill="#000" textLength="33.71" lengthAdjust="spacingAndGlyphs">US</text>
<text x="570.95" y="39.40" font-size="27.76" font-weight="bold" style="font-family:'Liberation Sans',sans-serif" fill="#000" textLength="101.32" lengthAdjust="spacingAndGlyphs">T-Bonds</text>
<text x="678.48" y="39.40" font-size="27.76" font-weight="bold" style="font-family:'Liberation Sans',sans-serif" fill="#000" textLength="60.33" lengthAdjust="spacingAndGlyphs">$Bils</text>
<text x="368.84" y="606.50" font-size="14.53" font-weight="bold" style="font-family:'Liberation Sans',sans-serif" fill="#000" textLength="51.45" lengthAdjust="spacingAndGlyphs">Source</text>
<text x="423.17" y="606.50" font-size="14.53" font-weight="bold" style="font-family:'Liberation Sans',sans-serif" fill="#000" textLength="54.19" lengthAdjust="spacingAndGlyphs">Federal</text>
<text x="479.66" y="606.50" font-size="14.53" font-weight="bold" style="font-family:'Liberation Sans',sans-serif" fill="#000" textLength="59.77" lengthAdjust="spacingAndGlyphs">Reserve</text>
<rect x="0" y="0" width="858" height="3" fill="#000"/><rect x="0" y="620" width="858" height="3" fill="#000"/><rect x="0" y="0" width="3" height="623" fill="#000"/><rect x="855" y="0" width="3" height="623" fill="#000"/>
<rect x="3" y="1" width="115" height="33" fill="#fff" stroke="#000" stroke-width="2"/>
<text x="13.90" y="22.60" font-size="15.84" style="font-family:'Liberation Sans',sans-serif" fill="#000" textLength="17.73" lengthAdjust="spacingAndGlyphs">20</text>
<text x="35.11" y="22.60" font-size="15.84" style="font-family:'Liberation Sans',sans-serif" fill="#000" textLength="29.99" lengthAdjust="spacingAndGlyphs">Nov</text>
<text x="68.99" y="22.60" font-size="15.84" style="font-family:'Liberation Sans',sans-serif" fill="#000" textLength="36.05" lengthAdjust="spacingAndGlyphs">2020</text>
<rect x="760" y="1" width="97" height="33" fill="#fff" stroke="#000" stroke-width="2"/>
<text x="772.10" y="22.30" font-size="14.83" style="font-family:'Liberation Sans',sans-serif" fill="#000" textLength="72.12" lengthAdjust="spacingAndGlyphs">GATA.Org</text>
<rect x="0" y="0" width="1" height="1" fill="#BBBBBB"/>
</svg></body></html>
